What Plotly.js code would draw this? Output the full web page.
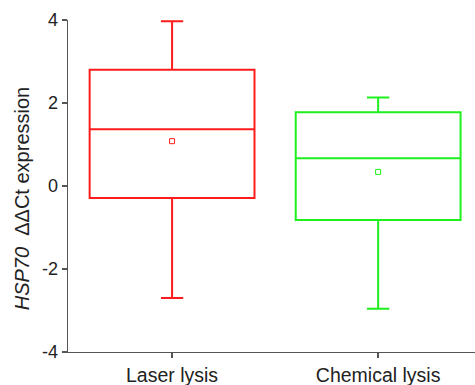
<!DOCTYPE html>
<html>
<head>
<meta charset="utf-8">
<script src="https://cdn.plot.ly/plotly-3.0.1.min.js"></script>
<style>
  html, body { margin: 0; padding: 0; background: #fff; }
  #chart { width: 475px; height: 385px; }
</style>
</head>
<body>
<div id="chart"></div>
<script>
// Group labels and summary statistics of HSP70 ΔΔCt per lysis method
const categories = ['Laser lysis', 'Chemical lysis'];
const q1Values = [-0.29, -0.82];
const medianValues = [1.37, 0.67];
const q3Values = [2.80, 1.78];
const lowerWhisker = [-2.70, -2.96];
const upperWhisker = [3.97, 2.13];
const meanValues = [1.08, 0.34];
const groupColors = ['#ff1c1c', '#1ef01e'];
const yTickValues = [-4, -2, 0, 2, 4];
const yTickLabels = ['-4', '-2', '0', '2', '4'];
const yTitle = '<i>HSP70</i>&nbsp; ΔΔCt expression';

const traces = [];
categories.forEach((cat, i) => {
  traces.push({
    type: 'box',
    x: [cat],
    q1: [q1Values[i]],
    median: [medianValues[i]],
    q3: [q3Values[i]],
    lowerfence: [lowerWhisker[i]],
    upperfence: [upperWhisker[i]],
    width: 0.8,
    whiskerwidth: 0.135,
    fillcolor: 'rgba(0,0,0,0)',
    line: { color: groupColors[i], width: 2 },
    hoverinfo: 'skip',
    showlegend: false
  });
  // mean marker
  traces.push({
    type: 'scatter',
    mode: 'markers',
    x: [cat],
    y: [meanValues[i]],
    marker: { symbol: 'square-open', size: 5, color: groupColors[i], line: { width: 1, color: groupColors[i] } },
    hoverinfo: 'skip',
    showlegend: false
  });
});

const font = 'Liberation Sans, Arial, sans-serif';

const layout = {
  width: 475,
  height: 385,
  margin: { l: 68, r: 0, t: 20, b: 33 },
  paper_bgcolor: '#fff',
  plot_bgcolor: '#fff',
  showlegend: false,
  font: { family: font, size: 18, color: '#222' },
  xaxis: {
    type: 'category',
    range: [-0.505, 1.47],
    showline: true,
    linecolor: '#555',
    linewidth: 1.3,
    ticks: 'outside',
    ticklen: 5,
    tickwidth: 1.3,
    tickcolor: '#555',
    showgrid: false,
    zeroline: false,
    tickfont: { family: font, size: 19.5, color: '#222' }
  },
  yaxis: {
    range: [-4, 4],
    tickvals: yTickValues,
    ticktext: yTickLabels,
    showline: true,
    linecolor: '#555',
    linewidth: 1.3,
    ticks: 'outside',
    ticklen: 5,
    tickwidth: 1.3,
    tickcolor: '#555',
    showgrid: false,
    zeroline: false,
    tickfont: { family: font, size: 18, color: '#222' }
  },
  // vertical axis title, set slightly below the plot centre
  annotations: [{
    text: yTitle,
    xref: 'paper', yref: 'paper',
    x: -0.113, y: 0.46,
    xanchor: 'center', yanchor: 'middle',
    textangle: -90,
    showarrow: false,
    font: { family: font, size: 20, color: '#222' }
  }]
};

Plotly.newPlot('chart', traces, layout, { displayModeBar: false, staticPlot: true });
</script>
</body>
</html>
